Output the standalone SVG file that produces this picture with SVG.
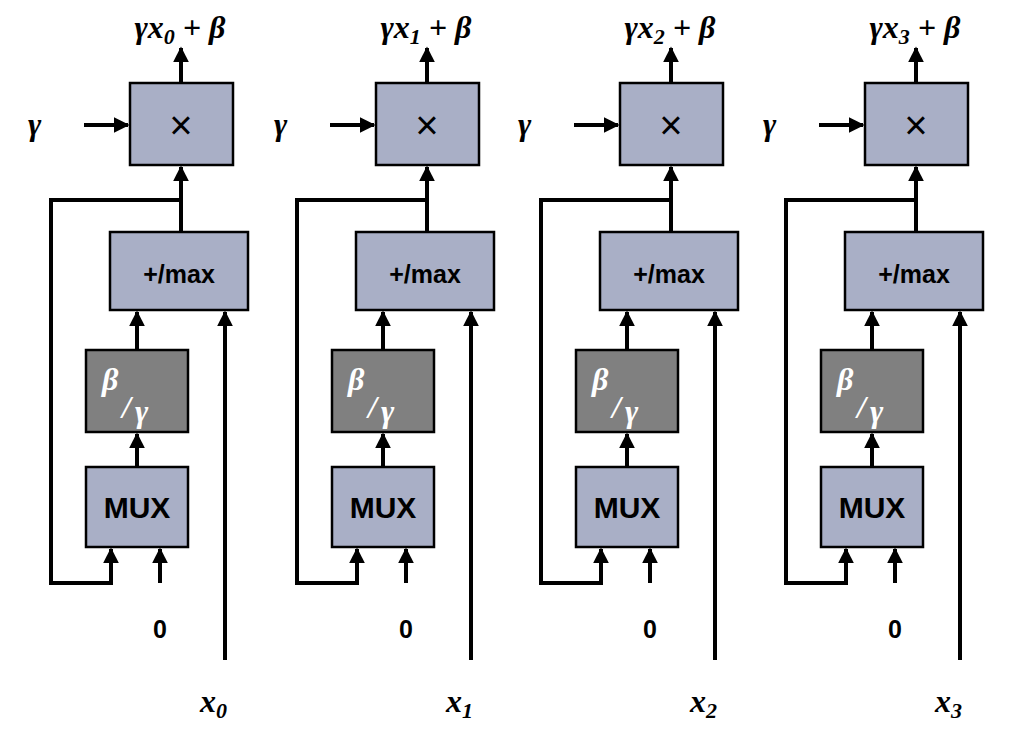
<svg xmlns="http://www.w3.org/2000/svg" width="1013" height="730" viewBox="0 0 1013 730">
<defs>
<marker id="a" viewBox="0 0 10 10" refX="9" refY="5" markerWidth="4" markerHeight="4" orient="auto" markerUnits="strokeWidth"><path d="M0,0L10,5L0,10z" fill="#000"/></marker>
<style>
.b{fill:#a9afc6;stroke:#000;stroke-width:2.5}
.d{fill:#808080;stroke:#000;stroke-width:2.5}
.w{fill:none;stroke:#000;stroke-width:4}
.ar{fill:none;stroke:#000;stroke-width:4;marker-end:url(#a)}
.t{font-family:"Liberation Sans",Arial,sans-serif;font-weight:bold;font-size:30px;text-anchor:middle}
.s{font-family:"Liberation Sans",Arial,sans-serif;font-weight:bold;font-size:25px;text-anchor:middle}
.m{font-family:"Liberation Serif","DejaVu Serif",serif;font-weight:bold;font-style:italic;font-size:32px}
.x{font-family:"Liberation Sans",Arial,sans-serif;font-size:40px;text-anchor:middle}
</style>
</defs>
<rect width="1013" height="730" fill="#fff"/>
<g id="connectors">
<g id="c0">
<path class="ar" d="M181,83V48"/><path class="ar" d="M84,125H128"/><path class="ar" d="M181,232V167"/>
<path class="w" d="M181,200H51V583H111V560"/><path class="ar" d="M111,583V549"/>
<path class="ar" d="M137,350V312"/><path class="ar" d="M137,467V434"/><path class="ar" d="M160,583V549"/><path class="ar" d="M225,660V312"/>
</g>
<g id="c1" transform="translate(246,0)">
<path class="ar" d="M181,83V48"/><path class="ar" d="M84,125H128"/><path class="ar" d="M181,232V167"/>
<path class="w" d="M181,200H51V583H111V560"/><path class="ar" d="M111,583V549"/>
<path class="ar" d="M137,350V312"/><path class="ar" d="M137,467V434"/><path class="ar" d="M160,583V549"/><path class="ar" d="M225,660V312"/>
</g>
<g id="c2" transform="translate(490,0)">
<path class="ar" d="M181,83V48"/><path class="ar" d="M84,125H128"/><path class="ar" d="M181,232V167"/>
<path class="w" d="M181,200H51V583H111V560"/><path class="ar" d="M111,583V549"/>
<path class="ar" d="M137,350V312"/><path class="ar" d="M137,467V434"/><path class="ar" d="M160,583V549"/><path class="ar" d="M225,660V312"/>
</g>
<g id="c3" transform="translate(735,0)">
<path class="ar" d="M181,83V48"/><path class="ar" d="M84,125H128"/><path class="ar" d="M181,232V167"/>
<path class="w" d="M181,200H51V583H111V560"/><path class="ar" d="M111,583V549"/>
<path class="ar" d="M137,350V312"/><path class="ar" d="M137,467V434"/><path class="ar" d="M160,583V549"/><path class="ar" d="M225,660V312"/>
</g>
</g>
<g id="col0">
<g id="mul0"><rect class="b" x="130" y="83" width="103" height="82"/><text class="x" x="181" y="139">×</text></g>
<g id="add0"><rect class="b" x="110" y="232" width="138" height="78"/><text class="s" x="179" y="283">+/max</text></g>
<g id="div0"><rect class="d" x="86" y="350" width="102" height="82"/><text class="m" fill="#fff" x="102" y="390">β</text><text class="m" fill="#fff" x="122" y="418">/</text><text class="m" fill="#fff" x="135" y="422">γ</text></g>
<g id="mux0"><rect class="b" x="86" y="467" width="102" height="80"/><text class="t" x="137" y="518">MUX</text></g>
<text class="m" x="180" y="38" text-anchor="middle">γx<tspan font-size="22" dy="6">0</tspan><tspan dy="-6"> + β</tspan></text>
<text class="m" x="28" y="135">γ</text>
<text class="s" x="160" y="638">0</text>
<text class="m" x="200" y="712">x<tspan font-size="22" dy="6">0</tspan></text>
</g>
<g id="col1" transform="translate(246,0)">
<g id="mul1"><rect class="b" x="130" y="83" width="103" height="82"/><text class="x" x="181" y="139">×</text></g>
<g id="add1"><rect class="b" x="110" y="232" width="138" height="78"/><text class="s" x="179" y="283">+/max</text></g>
<g id="div1"><rect class="d" x="86" y="350" width="102" height="82"/><text class="m" fill="#fff" x="102" y="390">β</text><text class="m" fill="#fff" x="122" y="418">/</text><text class="m" fill="#fff" x="135" y="422">γ</text></g>
<g id="mux1"><rect class="b" x="86" y="467" width="102" height="80"/><text class="t" x="137" y="518">MUX</text></g>
<text class="m" x="180" y="38" text-anchor="middle">γx<tspan font-size="22" dy="6">1</tspan><tspan dy="-6"> + β</tspan></text>
<text class="m" x="28" y="135">γ</text>
<text class="s" x="160" y="638">0</text>
<text class="m" x="200" y="712">x<tspan font-size="22" dy="6">1</tspan></text>
</g>
<g id="col2" transform="translate(490,0)">
<g id="mul2"><rect class="b" x="130" y="83" width="103" height="82"/><text class="x" x="181" y="139">×</text></g>
<g id="add2"><rect class="b" x="110" y="232" width="138" height="78"/><text class="s" x="179" y="283">+/max</text></g>
<g id="div2"><rect class="d" x="86" y="350" width="102" height="82"/><text class="m" fill="#fff" x="102" y="390">β</text><text class="m" fill="#fff" x="122" y="418">/</text><text class="m" fill="#fff" x="135" y="422">γ</text></g>
<g id="mux2"><rect class="b" x="86" y="467" width="102" height="80"/><text class="t" x="137" y="518">MUX</text></g>
<text class="m" x="180" y="38" text-anchor="middle">γx<tspan font-size="22" dy="6">2</tspan><tspan dy="-6"> + β</tspan></text>
<text class="m" x="28" y="135">γ</text>
<text class="s" x="160" y="638">0</text>
<text class="m" x="200" y="712">x<tspan font-size="22" dy="6">2</tspan></text>
</g>
<g id="col3" transform="translate(735,0)">
<g id="mul3"><rect class="b" x="130" y="83" width="103" height="82"/><text class="x" x="181" y="139">×</text></g>
<g id="add3"><rect class="b" x="110" y="232" width="138" height="78"/><text class="s" x="179" y="283">+/max</text></g>
<g id="div3"><rect class="d" x="86" y="350" width="102" height="82"/><text class="m" fill="#fff" x="102" y="390">β</text><text class="m" fill="#fff" x="122" y="418">/</text><text class="m" fill="#fff" x="135" y="422">γ</text></g>
<g id="mux3"><rect class="b" x="86" y="467" width="102" height="80"/><text class="t" x="137" y="518">MUX</text></g>
<text class="m" x="180" y="38" text-anchor="middle">γx<tspan font-size="22" dy="6">3</tspan><tspan dy="-6"> + β</tspan></text>
<text class="m" x="28" y="135">γ</text>
<text class="s" x="160" y="638">0</text>
<text class="m" x="200" y="712">x<tspan font-size="22" dy="6">3</tspan></text>
</g>
</svg>
